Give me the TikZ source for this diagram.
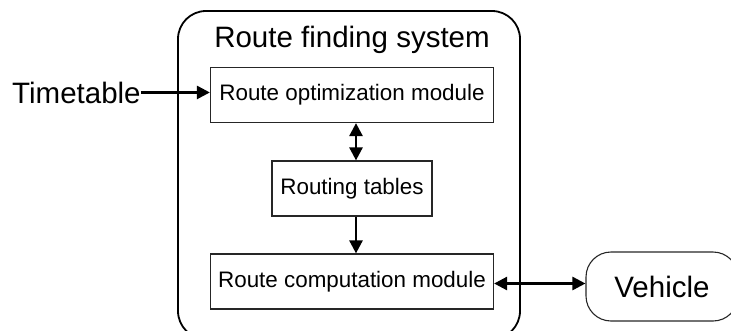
\documentclass[tikz,border=0pt]{standalone}
\usepackage{fontspec}
\setmainfont{Liberation Sans}
\usetikzlibrary{arrows.meta}

\tikzset{
  modbox/.style={draw=black!85, line width=1.2pt, inner sep=0pt, minimum height=55pt,
    font=\fontsize{22.4}{25}\selectfont},
  bigtext/.style={inner sep=0pt, font=\fontsize{29.5}{32}\selectfont},
  conn/.style={line width=2.6pt, -{Triangle[length=13pt,width=13pt]}},
  biconn/.style={line width=2.6pt, {Triangle[length=13pt,width=13pt]}-{Triangle[length=13pt,width=13pt]}}
}

\begin{document}
\begin{tikzpicture}[x=1pt, y=-1pt]
    \useasboundingbox (0,0) rectangle (731,330);
    \clip (0,0) rectangle (731,330);

    \draw[line width=1.8pt, rounded corners=28pt] (178,11) rectangle (520,339);

    \node[bigtext, anchor=base] (title) at (352,47) {Route finding system};

    \node[modbox, minimum width=283pt] (opt)   at (352, 95  ) {Route optimization module};
    \node[modbox, minimum width=160pt] (table) at (352, 188.5) {Routing tables};
    \node[modbox, minimum width=283pt] (comp)  at (352, 281.5) {Route computation module};

    \node[bigtext, anchor=base west] (time) at (12,103) {Timetable};
    \node[bigtext, draw=black!85, line width=1.1pt, rounded corners=25pt,
          minimum width=152pt, minimum height=69pt] (car) at (662,286.5) {Vehicle};

    \draw[conn]   (time.east) -- (time.east -| opt.west);
    \draw[biconn] ([xshift=4pt]opt.south) -- ([xshift=4pt]table.north);
    \draw[conn]   ([xshift=4pt]table.south) -- ([xshift=4pt]comp.north);
    \draw[biconn] ([yshift=-2pt]comp.east) -- ([yshift=-2pt]comp.east -| car.west);
\end{tikzpicture}
\end{document}
